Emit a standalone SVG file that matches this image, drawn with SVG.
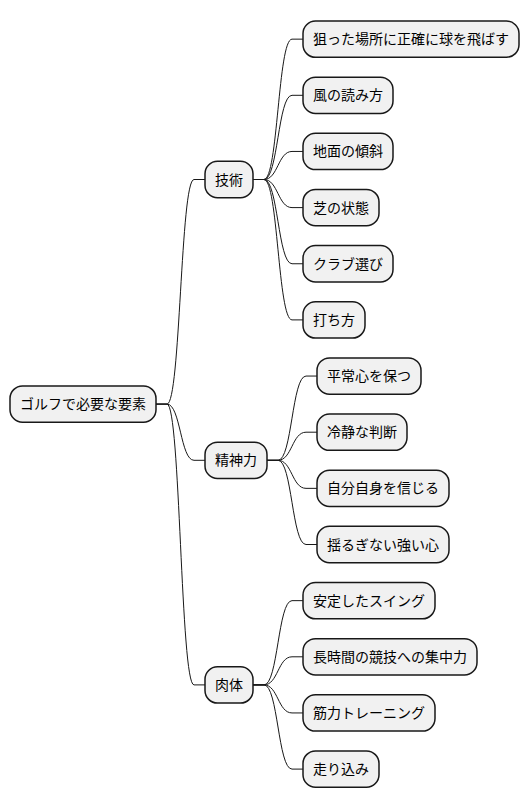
<svg xmlns="http://www.w3.org/2000/svg" width="530" height="809" viewBox="0 0 530 809">
<style>
.n rect{fill:#F1F1F1;stroke:#181818;stroke-width:1.5}
.n text{font-family:"Noto Sans CJK JP","Noto Sans",sans-serif;font-size:14px;fill:#000}
#edges path{fill:none;stroke:#181818;stroke-width:1}
</style>
<rect width="530" height="809" fill="#FFFFFF"/>
<g id="edges">
<path d="M156 404.1 L167 404.1 C180.5 404.1 180.5 179.5 194 179.5 L205 179.5"/>
<path d="M156 404.1 L167 404.1 C180.5 404.1 180.5 460.3 194 460.3 L205 460.3"/>
<path d="M156 404.1 L167 404.1 C180.5 404.1 180.5 684.9 194 684.9 L205 684.9"/>
<path d="M253 179.5 L264 179.5 C278 179.5 278 39.15 292 39.15 L303 39.15"/>
<path d="M253 179.5 L264 179.5 C278 179.5 278 95.3 292 95.3 L303 95.3"/>
<path d="M253 179.5 L264 179.5 C278 179.5 278 151.45 292 151.45 L303 151.45"/>
<path d="M253 179.5 L264 179.5 C278 179.5 278 207.6 292 207.6 L303 207.6"/>
<path d="M253 179.5 L264 179.5 C278 179.5 278 263.75 292 263.75 L303 263.75"/>
<path d="M253 179.5 L264 179.5 C278 179.5 278 319.9 292 319.9 L303 319.9"/>
<path d="M267 460.3 L278 460.3 C292 460.3 292 376.05 306 376.05 L317 376.05"/>
<path d="M267 460.3 L278 460.3 C292 460.3 292 432.2 306 432.2 L317 432.2"/>
<path d="M267 460.3 L278 460.3 C292 460.3 292 488.35 306 488.35 L317 488.35"/>
<path d="M267 460.3 L278 460.3 C292 460.3 292 544.5 306 544.5 L317 544.5"/>
<path d="M253 684.9 L264 684.9 C278 684.9 278 600.65 292 600.65 L303 600.65"/>
<path d="M253 684.9 L264 684.9 C278 684.9 278 656.8 292 656.8 L303 656.8"/>
<path d="M253 684.9 L264 684.9 C278 684.9 278 712.95 292 712.95 L303 712.95"/>
<path d="M253 684.9 L264 684.9 C278 684.9 278 769.1 292 769.1 L303 769.1"/>
</g>
<g id="root" class="n"><rect x="10" y="385.95" width="146" height="36.3" rx="12.5"/><text x="20" y="409.1">ゴルフで必要な要素</text></g>
<g id="gijutsu" class="n"><rect x="205" y="161.35" width="48" height="36.3" rx="12.5"/><text x="215" y="184.5">技術</text></g>
<g id="seishin" class="n"><rect x="205" y="442.15" width="62" height="36.3" rx="12.5"/><text x="215" y="465.3">精神力</text></g>
<g id="nikutai" class="n"><rect x="205" y="666.75" width="48" height="36.3" rx="12.5"/><text x="215" y="689.9">肉体</text></g>
<g id="g1" class="n"><rect x="303" y="21" width="216" height="36.3" rx="12.5"/><text x="313" y="44.15">狙った場所に正確に球を飛ばす</text></g>
<g id="g2" class="n"><rect x="303" y="77.15" width="90" height="36.3" rx="12.5"/><text x="313" y="100.3">風の読み方</text></g>
<g id="g3" class="n"><rect x="303" y="133.3" width="90" height="36.3" rx="12.5"/><text x="313" y="156.45">地面の傾斜</text></g>
<g id="g4" class="n"><rect x="303" y="189.45" width="76" height="36.3" rx="12.5"/><text x="313" y="212.6">芝の状態</text></g>
<g id="g5" class="n"><rect x="303" y="245.6" width="90" height="36.3" rx="12.5"/><text x="313" y="268.75">クラブ選び</text></g>
<g id="g6" class="n"><rect x="303" y="301.75" width="62" height="36.3" rx="12.5"/><text x="313" y="324.9">打ち方</text></g>
<g id="s1" class="n"><rect x="317" y="357.9" width="104" height="36.3" rx="12.5"/><text x="327" y="381.05">平常心を保つ</text></g>
<g id="s2" class="n"><rect x="317" y="414.05" width="90" height="36.3" rx="12.5"/><text x="327" y="437.2">冷静な判断</text></g>
<g id="s3" class="n"><rect x="317" y="470.2" width="132" height="36.3" rx="12.5"/><text x="327" y="493.35">自分自身を信じる</text></g>
<g id="s4" class="n"><rect x="317" y="526.35" width="132" height="36.3" rx="12.5"/><text x="327" y="549.5">揺るぎない強い心</text></g>
<g id="n1" class="n"><rect x="303" y="582.5" width="132" height="36.3" rx="12.5"/><text x="313" y="605.65">安定したスイング</text></g>
<g id="n2" class="n"><rect x="303" y="638.65" width="174" height="36.3" rx="12.5"/><text x="313" y="661.8">長時間の競技への集中力</text></g>
<g id="n3" class="n"><rect x="303" y="694.8" width="132" height="36.3" rx="12.5"/><text x="313" y="717.95">筋力トレーニング</text></g>
<g id="n4" class="n"><rect x="303" y="750.95" width="76" height="36.3" rx="12.5"/><text x="313" y="774.1">走り込み</text></g>
</svg>
